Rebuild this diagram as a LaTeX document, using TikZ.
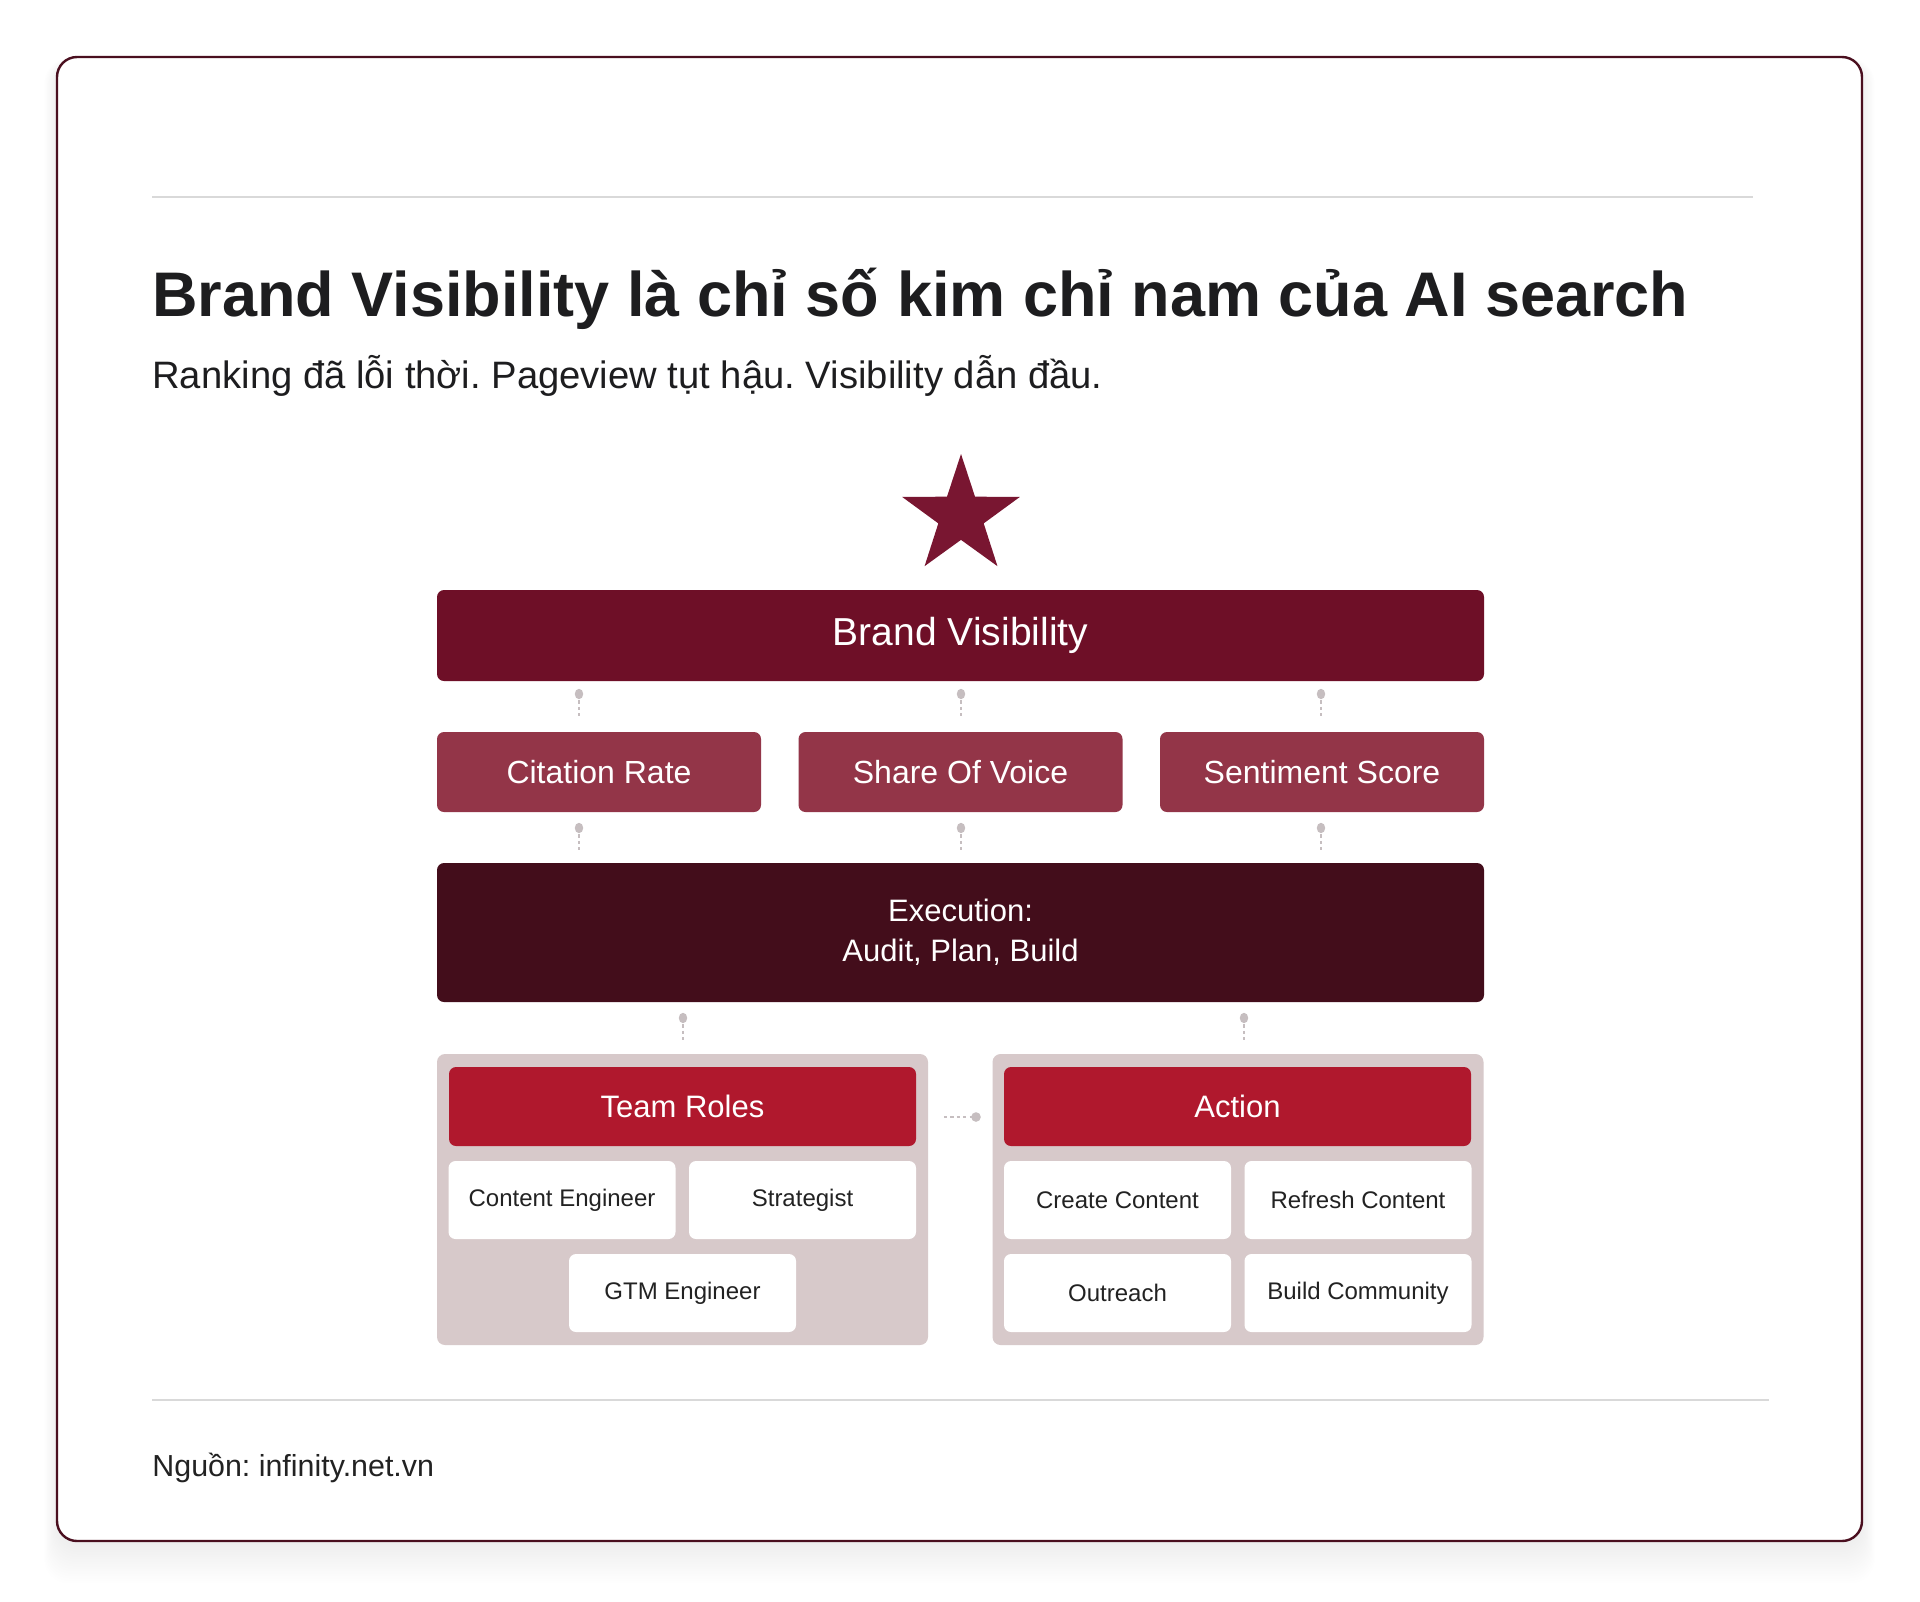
\documentclass[tikz,border=0pt]{standalone}
\usepackage{fontspec}
\setmainfont{Liberation Sans}
\frenchspacing
\usetikzlibrary{shapes.geometric}
\definecolor{cardline}{HTML}{4A0F1F}
\definecolor{rulec}{HTML}{D9D9D9}
\definecolor{titlec}{HTML}{1D1D1F}
\definecolor{bvc}{HTML}{6E0F27}
\definecolor{metc}{HTML}{933548}
\definecolor{exc}{HTML}{430D1B}
\definecolor{grpc}{HTML}{D7C9CA}
\definecolor{headc}{HTML}{B0182D}
\definecolor{starc}{HTML}{791631}
\definecolor{connc}{HTML}{C6BEC0}
\definecolor{itemtxt}{HTML}{222222}
\begin{document}
\begin{tikzpicture}[x=0.5pt,y=-0.5pt,
  box/.style={rounded corners=3.5pt, inner sep=0pt, text=white, align=center},
  bvbox/.style={box, fill=bvc, minimum width=523.5pt, minimum height=45.5pt, font=\fontsize{19.5}{23}\selectfont},
  metbox/.style={box, fill=metc, minimum width=162pt, minimum height=40pt, font=\fontsize{16}{20}\selectfont},
  exbox/.style={box, fill=exc, minimum width=523.5pt, minimum height=69.5pt, font=\fontsize{15.5}{20}\selectfont},
  grpbox/.style={fill=grpc, rounded corners=4pt, inner sep=0pt, minimum width=245.5pt, minimum height=145.5pt},
  headbox/.style={box, fill=headc, minimum width=233.5pt, minimum height=39.5pt, font=\fontsize{15.5}{19}\selectfont},
  itembox/.style={fill=white, rounded corners=3.5pt, inner sep=0pt, text=itemtxt, minimum width=113.5pt, minimum height=39pt, font=\fontsize{12}{15}\selectfont},
  conn/.style={draw=connc, line width=0.7pt, dash pattern=on 1.6pt off 1.6pt},
  dotc/.style={fill=connc}
]
\useasboundingbox (0,0) rectangle (1920,1601);
\fill[white] (0,0) rectangle (1920,1601);
% card shadow
\foreach \i in {0,...,16}{
  \fill[black, opacity=0.005, rounded corners=12pt] (57-\i*0.8,62-\i*0.2) rectangle (1862+\i*0.8,1545+\i*2.4);
}
\draw[cardline, line width=1.2pt, fill=white, rounded corners=10pt] (57,57) rectangle (1862,1541);
% rules
\draw[rulec, line width=0.9pt] (152,197) -- (1753,197);
\draw[rulec, line width=0.9pt] (152,1400) -- (1769,1400);
% texts
\node[anchor=base west, inner sep=0pt, text=titlec, font=\fontsize{31.5}{36}\selectfont\bfseries] (title) at (152,316) {Brand Visibility là chỉ số kim chỉ nam của AI search};
\node[anchor=base west, inner sep=0pt, text=titlec, font=\fontsize{19.1}{23}\selectfont] (sub) at (152,388) {Ranking đã lỗi thời. Pageview tụt hậu. Visibility dẫn đầu.};
\node[anchor=base west, inner sep=0pt, text=itemtxt, font=\fontsize{15.2}{18}\selectfont] (src) at (152,1476) {Nguồn: infinity.net.vn};
% star
\node[star, star points=5, star point ratio=2.6, minimum size=62pt, inner sep=0pt, fill=starc] (starmark) at (961,516) {};
% main boxes
\node[bvbox] (bv) at (960.5,635.5) {Brand Visibility};
\node[metbox] (cr) at (599,772) {Citation Rate};
\node[metbox] (sov) at (960.5,772) {Share Of Voice};
\node[metbox] (ss) at (1322,772) {Sentiment Score};
\node[exbox] (ex) at (960.5,932.5) {Execution:\\Audit, Plan, Build};
% groups
\node[grpbox] (gl) at (682.5,1199.5) {};
\node[grpbox] (gr) at (1238,1199.5) {};
\node[headbox] (tr) at (682.5,1106.5) {Team Roles};
\node[headbox] (ac) at (1237.5,1106.5) {Action};
\node[itembox] (ce) at (562,1200) {Content Engineer};
\node[itembox] (st) at (802.5,1200) {Strategist};
\node[itembox] (gtm) at (682.5,1293) {GTM Engineer};
\node[itembox] (cc) at (1117.5,1200) {Create Content};
\node[itembox] (rc) at (1358,1200) {Refresh Content};
\node[itembox] (out) at (1117.5,1293) {Outreach};
\node[itembox] (bc) at (1358,1293) {Build Community};
% connectors
\foreach \n/\x/\ya/\yb in {a/579/694/717, b/961/694/717, c/1321/694/717, d/579/828/850, e/961/828/850, f/1321/828/850, g/683/1018/1042, h/1244/1018/1042}{
  \coordinate (s\n) at (\x,\ya);
  \coordinate (t\n) at (\x,\yb);
  \draw[conn] (s\n) -- (t\n);
  \fill[dotc] (s\n) ellipse (2.1pt and 2.6pt);
}
\coordinate (hs) at (944,1117);
\coordinate (ht) at (976,1117);
\draw[conn] (hs) -- (ht);
\fill[dotc] (ht) ellipse (2.4pt and 2.4pt);
\end{tikzpicture}
\end{document}
